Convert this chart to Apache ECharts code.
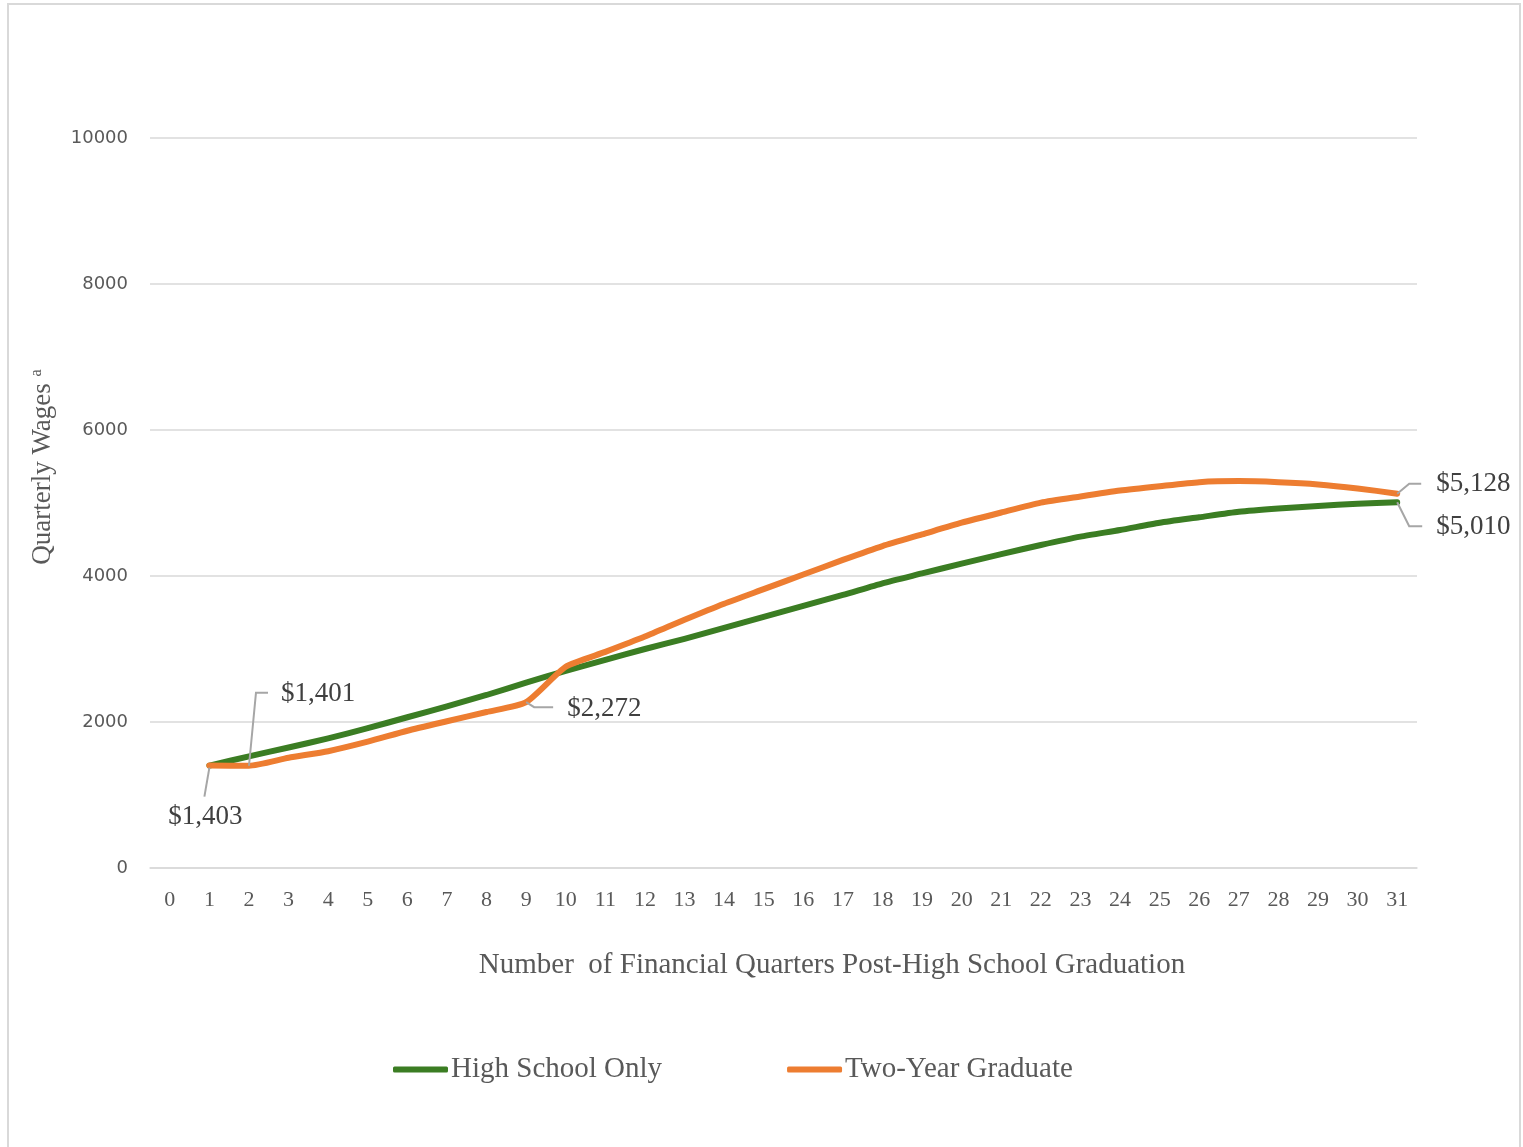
<!DOCTYPE html>
<html>
<head>
<meta charset="utf-8">
<title>Quarterly Wages by Education Path</title>
<script src="https://cdn.jsdelivr.net/npm/echarts@6/dist/echarts.min.js"></script>
<style>
  html, body { margin: 0; padding: 0; background: #ffffff; }
  #chart { width: 1523px; height: 1147px; }
</style>
</head>
<body>
<div id="chart"></div>
<script>
// Quarters after high school graduation (tick labels 0..31)
const quarters = ['0','1','2','3','4','5','6','7','8','9','10','11','12','13','14','15',
                  '16','17','18','19','20','21','22','23','24','25','26','27','28','29','30','31'];

// Mean quarterly wages, high school only (no value for quarter 0)
const highSchoolOnly = [null, 1403, 1530, 1650, 1775, 1915, 2065, 2215, 2370, 2540, 2700,
                        2850, 3000, 3140, 3290, 3440, 3590, 3740, 3900, 4035, 4170,
                        4300, 4425, 4540, 4630, 4730, 4805, 4880, 4925, 4960, 4990, 5010];

// Mean quarterly wages, two-year graduates
const twoYearGraduate = [null, 1403, 1401, 1510, 1600, 1730, 1880, 2010, 2137, 2272, 2757,
                         2960, 3170, 3400, 3620, 3820, 4020, 4220, 4410, 4570, 4730,
                         4870, 5005, 5090, 5170, 5230, 5285, 5300, 5285, 5255, 5200, 5128];

const seriesNames = ['High School Only', 'Two-Year Graduate'];
const yTicks = { min: 0, max: 10000, step: 2000 };

// Points that carry a callout: [series index, data index]
const callouts = [[1, 1], [1, 2], [1, 9], [1, 31], [0, 31]];

const GREEN = '#3b7d23';
const ORANGE = '#ed7d31';
const GREY_TEXT = '#595959';
const SERIF = '"Liberation Serif", "Times New Roman", serif';

const chart = echarts.init(document.getElementById('chart'), null, { renderer: 'canvas' });

const option = {
  backgroundColor: '#ffffff',
  animation: false,
  grid: { left: 150, right: 106, top: 138, bottom: 279, containLabel: false },
  legend: {
    left: 393,
    top: 1055,
    padding: 0,
    itemWidth: 55,
    itemHeight: 6,
    itemGap: 125,
    icon: 'roundRect',
    textStyle: { fontFamily: SERIF, fontSize: 29, color: GREY_TEXT, padding: [0, 0, 0, -2] },
    data: seriesNames
  },
  xAxis: {
    type: 'category',
    data: quarters,
    boundaryGap: true,
    axisLine: { show: true, lineStyle: { color: '#d9d9d9', width: 1.5 } },
    axisTick: { show: false },
    axisLabel: { fontFamily: SERIF, fontSize: 22, color: GREY_TEXT, margin: 21, interval: 0 },
    splitLine: { show: false }
  },
  yAxis: {
    type: 'value',
    min: yTicks.min,
    max: yTicks.max,
    interval: yTicks.step,
    axisLine: { show: false },
    axisTick: { show: false },
    axisLabel: {
      fontFamily: '"DejaVu Sans", sans-serif', fontSize: 18, color: GREY_TEXT, margin: 22,
      formatter: v => String(v)
    },
    splitLine: { lineStyle: { color: '#d9d9d9', width: 1.5 } }
  },
  series: [
    {
      name: seriesNames[0],
      type: 'line',
      data: highSchoolOnly,
      smooth: 0.2,
      showSymbol: false,
      symbol: 'none',
      lineStyle: { color: GREEN, width: 6, cap: 'round', join: 'round' },
      itemStyle: { color: GREEN },
      z: 2
    },
    {
      name: seriesNames[1],
      type: 'line',
      data: twoYearGraduate,
      smooth: 0.2,
      showSymbol: false,
      symbol: 'none',
      lineStyle: { color: ORANGE, width: 6, cap: 'round', join: 'round' },
      itemStyle: { color: ORANGE },
      z: 3
    }
  ],
  graphic: []
};

chart.setOption(option);

// Leader-line shapes and text anchors for each callout, relative to its point
const calloutStyle = {
  '1,1':  { line: [[0, 2], [-5, 31]],            text: [-4, 51],  align: 'center' },
  '1,2':  { line: [[0, 0], [7, -73], [19, -73]], text: [32, -72], align: 'left' },
  '1,9':  { line: [[0, 0], [8, 5], [27, 5]],     text: [41, 7],   align: 'left' },
  '1,31': { line: [[0, 0], [12, -10], [24, -10]],text: [39, -10], align: 'left' },
  '0,31': { line: [[0, 0], [12, 24], [25, 24]],  text: [39, 25],  align: 'left' }
};

const seriesData = [highSchoolOnly, twoYearGraduate];
const fmt = v => '$' + v.toLocaleString('en-US');

const graphics = [
  // Chart frame
  {
    type: 'rect',
    shape: { x: 8, y: 4, width: 1512, height: 1160 },
    style: { fill: null, stroke: '#d9d9d9', lineWidth: 2 },
    silent: true, z: 0
  },
  // Vertical axis title with superscript note marker
  {
    type: 'text',
    x: 43, y: 467,
    rotation: Math.PI / 2,
    style: {
      text: '{m|Quarterly Wages }{s|a}',
      align: 'center',
      verticalAlign: 'middle',
      rich: {
        m: { fontFamily: SERIF, fontSize: 27, fill: GREY_TEXT },
        s: { fontFamily: SERIF, fontSize: 16, fill: GREY_TEXT, verticalAlign: 'top', padding: [0, 0, 12, 0] }
      }
    },
    z: 10
  },
  // Horizontal axis title
  {
    type: 'text',
    x: 832, y: 965,
    style: {
      text: 'Number  of Financial Quarters Post-High School Graduation',
      fontFamily: SERIF, fontSize: 29, fill: GREY_TEXT,
      align: 'center', verticalAlign: 'middle'
    },
    z: 10
  }
];

callouts.forEach(([s, i]) => {
  const v = seriesData[s][i];
  const p = chart.convertToPixel({ seriesIndex: s }, [i, v]);
  const st = calloutStyle[s + ',' + i];
  graphics.push({
    type: 'polyline',
    shape: { points: st.line.map(([dx, dy]) => [p[0] + dx, p[1] + dy]) },
    style: { stroke: '#a6a6a6', lineWidth: 2, fill: null },
    silent: true, z: 5
  });
  graphics.push({
    type: 'text',
    x: p[0] + st.text[0],
    y: p[1] + st.text[1],
    style: {
      text: fmt(v),
      fontFamily: SERIF, fontSize: 27, fill: '#404040',
      align: st.align, verticalAlign: 'middle'
    },
    silent: true, z: 6
  });
});

chart.setOption({ graphic: graphics });
</script>
</body>
</html>
